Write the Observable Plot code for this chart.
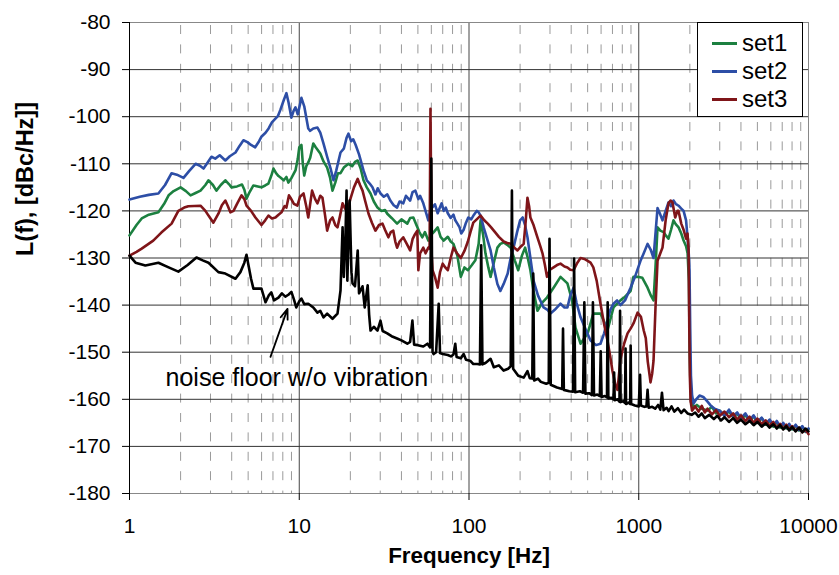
<!DOCTYPE html>
<html><head><meta charset="utf-8">
<script src="https://cdn.jsdelivr.net/npm/d3@7"></script>
<script src="https://cdn.jsdelivr.net/npm/@observablehq/plot@0.6"></script>
<style>
body{margin:0;background:#fff;font-family:"Liberation Sans",Arial,sans-serif;}
#wrap{position:relative;width:839px;height:575px;}
#legend{position:absolute;left:697px;top:22px;width:106px;height:95px;border:1px solid #000;background:#fff;box-sizing:border-box;}
.item{position:absolute;left:0;height:28px;display:flex;align-items:center;font-size:24px;line-height:28px;color:#000;}
.sw{display:inline-block;width:25px;height:3px;margin-left:14px;margin-right:5px;}
</style></head><body><div id="wrap"><div id="legend"></div></div>
<script>
// ---- data: [frequency Hz, L(f) dBc/Hz] ----
const seriesNames = ["set1", "set2", "set3"];
const seriesColors = ["#1C8040", "#2D4EA6", "#7F1519"];

const hfTail1 = [[2102,-161.7],[2200,-161.2],[2350,-162],[2541,-162.4],[2700,-161.6],[2850,-163],[3000,-162.4],[3200,-163.4],[3400,-162.6],[3600,-163.8],[3800,-163],[4000,-164.2],[4250,-163.4],[4500,-164.6],[4750,-163.6],[5000,-165],[5300,-164],[5600,-165.4],[5900,-164.5],[6200,-165.8],[6500,-164.8],[6800,-166],[7100,-165.2],[7400,-166.2],[7700,-165.4],[8000,-166.4],[8400,-165.6],[8800,-166.6],[9200,-165.8],[9600,-166.9],[10000,-166.3]];

const set1 = [[1,-125.2],[1.1,-123],[1.18,-121.6],[1.3,-120.8],[1.48,-120.3],[1.6,-118.5],[1.7,-116.7],[1.82,-115.8],[2.0,-115],[2.15,-115.8],[2.29,-116.7],[2.45,-116.2],[2.62,-115.7],[2.8,-114.5],[2.92,-113.5],[3.1,-114.5],[3.25,-115.7],[3.45,-114.5],[3.67,-113.5],[3.85,-114.3],[3.99,-115],[4.3,-114.8],[4.6,-114.4],[4.75,-115.5],[4.89,-117.4],[5.1,-116],[5.37,-114.6],[5.7,-114.8],[5.99,-115],[6.3,-114.6],[6.58,-114.2],[6.85,-112.5],[7.05,-111],[7.3,-112],[7.55,-112.6],[7.75,-112.9],[8.1,-113.5],[8.4,-112.8],[8.63,-114],[9.0,-113],[9.5,-111.4],[9.8,-109],[10.0,-106.5],[10.3,-106],[10.5,-110],[10.7,-112.5],[11.0,-110.5],[11.3,-109.7],[11.6,-108.7],[12.1,-105.7],[12.5,-106.5],[13.3,-107.8],[13.9,-109.5],[14.6,-110.8],[15.2,-113],[15.7,-115.7],[16.3,-114],[16.9,-112],[17.5,-112],[18.3,-110.8],[19.5,-110],[20.5,-110.5],[21.3,-109.6],[22.1,-109.3],[23,-111],[23.9,-113.5],[25,-115],[26.3,-116.3],[27.5,-118],[28.9,-119.3],[30.5,-120],[32,-119.8],[33,-120.6],[35,-121.5],[37.7,-122.7],[40,-121.8],[43.3,-122.7],[45,-121.5],[47,-121.4],[49,-123],[51,-124.5],[53.1,-125.6],[55,-124.5],[57.6,-126.3],[60,-125],[62,-124.5],[65.4,-123.5],[68,-125.5],[71,-126.3],[75,-125.5],[78,-126.5],[81,-127],[85.4,-129.5],[89.5,-134],[94,-132],[98.5,-132.6],[104,-131.5],[109,-130.5],[114,-127],[117,-122],[121,-125],[125,-129],[130,-132],[134,-134],[140,-131],[147,-127.8],[153,-127],[160,-126.7],[168,-127.2],[176,-127.8],[186,-130.5],[195,-132.6],[205,-129.5],[214,-127.8],[222,-130],[230,-132.6],[240,-137],[253,-141.2],[270,-139.5],[288,-138.4],[315,-136.3],[346,-134],[380,-135.4],[405,-139],[424,-144.8],[454,-148.2],[500,-146],[540,-141.8],[595,-141.8],[625,-143.5],[654,-145.4],[710,-140.5],[780,-139],[820,-138.4],[895,-137],[931,-134],[984,-134],[1050,-134.2],[1127,-136.3],[1180,-138],[1222,-139],[1255,-132],[1290,-123.5],[1340,-124.2],[1400,-124.5],[1450,-125.3],[1497,-125.9],[1550,-124],[1602,-122],[1650,-122.8],[1716,-123.5],[1780,-124.8],[1837,-126.3],[1900,-127.5],[1940,-129],[1975,-135],[1995,-150],[2020,-158],[2060,-160.3]].concat(hfTail1);

const hfTail2 = [[2102,-160.9],[2180,-160],[2280,-159.2],[2400,-159.5],[2541,-160.5],[2650,-161.3],[2800,-162],[3000,-162.4],[3200,-163.5],[3400,-162.2],[3600,-163.6],[3800,-162.8],[4000,-164],[4250,-163],[4500,-164.5],[4750,-163.4],[5000,-164.8],[5300,-163.9],[5600,-165.2],[5900,-164.3],[6200,-165.5],[6500,-164.6],[6800,-165.8],[7100,-165],[7400,-166],[7700,-165.2],[8000,-166.3],[8400,-165.4],[8800,-166.5],[9200,-165.7],[9600,-166.8],[10000,-166.2]];

const set2 = [[1,-117.6],[1.15,-117],[1.3,-116.6],[1.48,-116.3],[1.62,-114.5],[1.77,-112],[1.9,-112.3],[2.08,-113],[2.25,-111.5],[2.45,-110],[2.6,-110.4],[2.73,-111],[2.9,-109.6],[3.04,-108.5],[3.2,-108.9],[3.4,-108.2],[3.67,-109.3],[3.9,-108.4],[4.21,-107.6],[4.45,-106.2],[4.69,-105],[4.95,-105.4],[5.2,-106],[5.5,-106.5],[5.8,-105.2],[6.0,-104.2],[6.33,-103.4],[6.6,-102.5],[6.9,-101.2],[7.24,-100.4],[7.5,-99.8],[7.75,-98.5],[8.1,-96.5],[8.4,-95],[8.65,-97],[8.99,-100.2],[9.25,-98.8],[9.5,-98],[9.8,-99.5],[10.3,-96],[10.7,-97.8],[11.3,-102.5],[11.6,-103],[12.1,-102.5],[12.8,-102.3],[13.3,-103.4],[13.9,-105.7],[14.6,-108.5],[15.3,-111],[15.9,-113.5],[16.5,-111.5],[17.5,-107.6],[18.3,-106.8],[19.0,-104.5],[19.5,-103.6],[20.2,-105.2],[20.8,-104.8],[21.5,-106],[22.5,-108],[23.9,-111.4],[25,-113.5],[26,-114.2],[27,-115],[28.1,-116.5],[29,-115.2],[30.1,-116.3],[31.5,-117],[33,-116.5],[34.4,-117.8],[36,-118.8],[37.7,-119.3],[39,-118],[41,-118.4],[42.5,-116.8],[45,-117.8],[46.5,-116],[48.3,-115.7],[50.3,-117.5],[51.5,-116.8],[53.8,-118.4],[56,-120.5],[57.6,-122],[59,-120],[61,-119.2],[63,-118.6],[65.4,-120.5],[67,-119.5],[69,-118.4],[71,-120],[73,-119.3],[75,-120.5],[78,-121.5],[81,-120.8],[83,-122],[85.4,-122.7],[88,-123.5],[90,-124.8],[93,-124],[96,-122.5],[99,-121.4],[103,-121.8],[107,-120.8],[111,-120],[114,-120.3],[117,-121],[122,-123.5],[128,-126],[134,-128.4],[140,-132],[147,-135.5],[153,-137],[160,-135.5],[169,-133.3],[176,-130],[183,-127.8],[192,-124.5],[200,-122],[207,-121.4],[214,-123],[221,-125.6],[230,-130],[240,-134.8],[255,-138],[275,-140.5],[290,-141],[302,-141.8],[320,-141],[346,-139.7],[365,-140.5],[380,-140.5],[395,-138],[413,-136.3],[430,-139.5],[454,-142.6],[485,-145],[520,-147.5],[560,-148.5],[595,-148.2],[625,-146],[654,-143.3],[680,-141],[710,-139.7],[745,-139],[780,-140],[830,-139],[895,-136.3],[950,-134],[1024,-130.6],[1070,-129],[1127,-127],[1175,-128.2],[1222,-130],[1260,-124],[1290,-119.4],[1330,-120.5],[1380,-122],[1440,-120],[1497,-118.2],[1550,-119],[1602,-117.8],[1650,-118.5],[1716,-118.9],[1780,-119.5],[1837,-120],[1900,-122],[1938,-125.6],[1970,-129],[1991,-132.6],[2010,-145],[2030,-155],[2060,-159]].concat(hfTail2);

const hfTail3 = [[2060,-162.4],[2150,-161.5],[2250,-162.6],[2350,-161.4],[2450,-162.8],[2541,-162],[2700,-163.2],[2850,-162.3],[3000,-163.5],[3200,-162.6],[3400,-163.8],[3600,-163],[3800,-164.3],[4000,-163.4],[4250,-164.6],[4500,-163.7],[4750,-165],[5000,-164.1],[5300,-165.3],[5600,-164.5],[5900,-165.6],[6200,-164.8],[6500,-166],[6800,-165.2],[7100,-166.3],[7400,-165.4],[7700,-166.5],[8000,-165.7],[8400,-166.7],[8800,-166],[9200,-167],[9600,-166.4],[10000,-167.4]];

const set3 = [[1,-129.5],[1.1,-128.7],[1.18,-128],[1.38,-126.3],[1.54,-124.6],[1.77,-122.7],[1.94,-120],[2.1,-119.3],[2.22,-119],[2.62,-118.9],[2.8,-120],[2.92,-121],[3.12,-122.5],[3.34,-120.6],[3.5,-118.8],[3.67,-117.8],[3.8,-119],[3.93,-120.3],[4.1,-120],[4.3,-118.5],[4.57,-116.7],[4.75,-117.5],[4.89,-118.9],[5.2,-120],[5.52,-121.4],[5.99,-123],[6.3,-122],[6.58,-121],[6.9,-121.6],[7.24,-121.4],[7.55,-120.8],[7.86,-120.3],[8.2,-119],[8.4,-119.3],[8.7,-116.7],[8.88,-117.2],[9.3,-118.5],[9.75,-118.9],[10.1,-117],[10.6,-116.3],[11,-119],[11.3,-121.4],[11.9,-115.7],[12.4,-117.5],[12.8,-118.4],[13.3,-116.8],[13.7,-117.2],[14.2,-121],[14.6,-124.2],[15.2,-122],[15.7,-121.4],[16.3,-123],[16.8,-123.5],[17.4,-121],[18,-118.4],[18.6,-119.5],[19.2,-120],[20,-117.5],[21,-115],[22.1,-113.2],[22.8,-114.5],[23.6,-115.7],[24.5,-118],[25.6,-120.6],[26.8,-122.5],[28.1,-124.2],[29.5,-123],[30.9,-122.7],[32,-124],[33.5,-125.6],[34.6,-124.5],[35.8,-124.2],[36.8,-126.5],[37.7,-127.8],[39,-126.5],[41,-125.6],[43,-127],[45,-128.4],[46.5,-126],[48,-125],[49.6,-124.2],[50.3,-132.6],[51.5,-129],[53.8,-127.8],[55.5,-129],[57.6,-127.8],[58.6,-128],[59.3,-98.3],[60.2,-129],[61,-132.6],[63,-134],[65.4,-136.3],[67.5,-133],[70,-131.2],[72.5,-132],[75,-132.6],[78,-130],[81,-127.8],[85,-129],[89.5,-130],[94,-128.5],[98.5,-126.5],[102,-124.5],[106,-122.5],[111,-121.8],[117,-121],[123,-122],[129,-122.7],[135,-123.5],[140,-124.2],[150,-125.5],[160,-126.5],[168,-126.8],[176,-127],[185,-127.8],[193,-128.4],[203,-127.5],[210,-127],[216,-122],[221,-117.2],[226,-119],[230,-121.4],[240,-123],[253,-125.6],[263,-127.5],[271,-129],[280,-131.5],[288,-134],[300,-132.5],[315,-132],[330,-131.5],[346,-131.2],[365,-131.8],[380,-132],[395,-132.5],[413,-132.6],[435,-131],[454,-130],[478,-130.2],[500,-130.6],[520,-131],[540,-132],[565,-134.8],[595,-139.7],[625,-144],[654,-147.5],[680,-151],[700,-154],[730,-157],[750,-158],[780,-151.5],[820,-148.2],[859,-146],[895,-145],[931,-143.9],[984,-141.6],[1030,-142.5],[1070,-145.4],[1100,-147],[1130,-152],[1160,-155],[1173,-156.4],[1200,-154.5],[1222,-151.8],[1255,-140.5],[1290,-130.6],[1340,-129],[1380,-127.8],[1440,-122],[1497,-118.4],[1540,-117.8],[1580,-118.2],[1640,-121.4],[1690,-120],[1716,-120],[1780,-122.7],[1837,-124],[1900,-125.9],[1938,-124.8],[1965,-128],[1985,-145],[2000,-155],[2020,-160.3]].concat(hfTail3);

const floorLow = [[1,-129.5],[1.085,-131],[1.24,-131.6],[1.48,-131],[1.7,-132],[1.94,-132.9],[2.2,-131.5],[2.48,-129.9],[2.7,-130.5],[2.92,-131],[3.34,-133],[3.67,-133.3],[4.21,-134.4],[4.5,-133],[4.75,-131],[4.89,-129.3],[5.02,-131.5],[5.2,-134.4],[5.37,-136.5],[5.99,-136.5],[6.33,-139.4],[6.6,-138],[6.85,-137.3],[7.1,-139],[7.54,-138.4],[7.9,-137.5],[8.28,-138.2],[8.63,-137.8],[8.99,-137.2],[9.3,-138.8],[9.6,-140.5],[10.0,-139.2],[10.3,-138.6],[10.7,-139.8],[11.3,-139.7],[12.1,-140.5],[12.8,-141.6],[13.3,-141.2],[13.9,-142.6],[14.6,-141.8],[15.7,-142.9],[16.8,-141.8],[17.2,-139],[17.5,-136.9],[18.0,-123.5],[18.3,-134],[18.7,-126],[19.0,-115.7],[19.2,-134.8],[19.8,-117.8],[20.3,-133],[20.6,-135.4],[21.3,-136],[22.1,-128.4],[22.5,-137.5],[23.6,-136],[24.3,-140.5],[25.3,-135.8],[25.8,-142],[26.3,-145.4],[27.5,-144.6],[28.9,-145.4],[30.1,-143.3],[31,-145.5],[33,-146],[35,-146.6],[37.7,-147.1],[40,-147.5],[43.3,-148.2],[45,-147.8],[46.4,-143.3],[47.5,-148.4],[50,-148.5],[53.8,-148.8],[56.9,-148.2],[59,-149],[60,-108.9],[61,-150],[61.9,-150.4],[64,-150],[66.3,-139.7],[67.5,-150.2],[70,-150.4],[75,-150.6],[78.2,-150.9],[81,-150.5],[83,-148.2],[84.5,-151],[89.5,-151.3],[93,-150.4],[96,-151.6],[101.5,-151.8],[106,-152.5],[112,-152.5],[116,-152.6],[118,-127.3],[120,-152.6],[125,-152.3],[134,-151.4],[140,-153.2],[150,-152.8],[160,-153.9],[170,-153.5],[176,-153],[179,-115.7],[182,-153.5],[195,-155],[210,-155.4],[221,-154],[228,-155.5],[236,-155.6],[239,-133.3],[242,-156],[255,-155.6],[265,-156.3],[285,-156.7],[295,-156.5],[298,-125.9],[303,-156.9],[330,-157.5],[354,-157.8],[358,-145],[362,-158]];
const floorHigh = [[390,-158.3],[410,-158.4],[416,-130.1],[422,-158.5],[450,-158.3],[470,-158.6],[478,-139.4],[485,-158.8],[510,-158.7],[530,-159.1],[537,-139.4],[545,-159.2],[570,-159],[590,-159.3],[597,-149.8],[604,-159.5],[630,-159.3],[650,-159.6],[656,-139.4],[662,-159.8],[690,-159.7],[710,-160],[716,-154.3],[722,-160.2],[750,-160],[770,-160.5],[776,-141.2],[782,-160.6],[810,-160.4],[830,-160.8],[836,-149.2],[842,-161],[870,-160.7],[890,-161],[896,-148.6],[902,-161],[950,-161.3],[1000,-161.5],[1018,-154.8],[1030,-161.3],[1080,-161.6],[1110,-161.5],[1127,-158],[1145,-161.8],[1200,-161.6],[1250,-162],[1300,-161.2],[1340,-162.2],[1370,-158.6],[1400,-162.3],[1460,-161.8],[1500,-162.5],[1560,-161.5],[1620,-162.6],[1700,-161.9],[1780,-162.9],[1850,-162.2],[1938,-163],[2050,-163.3],[2150,-162.8],[2250,-163.7],[2350,-163],[2450,-164],[2600,-163.3],[2770,-164.2],[2900,-163.5],[3050,-164.5],[3200,-163.8],[3400,-164.8],[3600,-164],[3800,-165],[4000,-164.3],[4250,-165.3],[4500,-164.6],[4750,-165.5],[5000,-164.8],[5300,-165.8],[5600,-165.1],[5900,-166],[6200,-165.3],[6500,-166.2],[6800,-165.5],[7100,-166.4],[7400,-165.7],[7700,-166.6],[8000,-165.9],[8400,-166.8],[8800,-166],[9200,-167],[9600,-166.2],[10000,-166.8]];
const noiseFloor = floorLow.concat(floorHigh);

const xTicks = [1, 10, 100, 1000, 10000];
const yTicks = [-180, -170, -160, -150, -140, -130, -120, -110, -100, -90, -80];
const gridY = [-170, -160, -150, -140, -130, -120, -110, -100, -90];
const decadeGrid = [10, 100, 1000];
const minorMult = [2, 3, 4, 5, 6, 7, 8, 9];
const minorGrid = [1, 10, 100, 1000].flatMap(d => minorMult.map(m => m * d));

const xTitle = "Frequency [Hz]";
const yTitle = "L(f), [dBc/Hz]]";
const noteText = ["noise floor w/o vibration"];
const noteX = [1.63], noteY = [-155.4];
const arrowFrom = [6.77, -151.0], arrowTo = [8.53, -140.8];

const fmt = d => String(d);
const trace = (data, stroke) => Plot.line(data, {x: d => d[0], y: d => d[1], stroke, strokeWidth: 2.6, strokeLinejoin: "round", strokeLinecap: "round"});

const chart = Plot.plot({
  width: 839, height: 575,
  marginLeft: 129, marginRight: 31, marginTop: 22, marginBottom: 82,
  x: {type: "log", domain: [1, 10000]},
  y: {domain: [-180, -80]},
  style: {background: "white", color: "black", fontFamily: "'Liberation Sans', Arial, sans-serif", fontSize: "21px", overflow: "visible"},
  marks: [
    Plot.ruleX(minorGrid, {y1: d => -80, y2: d => -180, stroke: "#9a9a9a", strokeWidth: 1, strokeDasharray: "9,10.4", strokeDashoffset: 16.4}),
    Plot.ruleX(decadeGrid, {stroke: "#444", strokeWidth: 1}),
    Plot.ruleY(gridY, {stroke: "#333", strokeWidth: 1}),
    Plot.ruleY([-80, -180], {stroke: "#888", strokeWidth: 1}),
    Plot.ruleX([10000], {stroke: "#888", strokeWidth: 1}),
    Plot.ruleX([1], {stroke: "#000", strokeWidth: 1}),
    trace(set1, seriesColors[0]),
    trace(set2, seriesColors[1]),
    trace(set3, seriesColors[2]),
    trace(noiseFloor, "#000"),
    Plot.arrow([0], {x1: () => arrowFrom[0], y1: () => arrowFrom[1], x2: () => arrowTo[0], y2: () => arrowTo[1], stroke: "#000", strokeWidth: 1.8, headLength: 9, headAngle: 40}),
    Plot.text(noteText, {x: (d, i) => noteX[i], y: (d, i) => noteY[i], text: d => d, textAnchor: "start", fontSize: 25}),
    Plot.axisX({ticks: xTicks, tickFormat: fmt, tickSize: 7, tickPadding: 18, label: null}),
    Plot.axisY({ticks: yTicks, tickFormat: fmt, tickSize: 7, tickPadding: 12, label: null}),
    Plot.text([xTitle], {frameAnchor: "bottom", dy: 69, fontWeight: "bold", fontSize: 22.4}),
    Plot.text([yTitle], {frameAnchor: "left", dx: -104.5, dy: -2, rotate: -90, fontWeight: "bold", fontSize: 23.5})
  ]
});
document.getElementById("wrap").prepend(chart);

const legend = document.getElementById("legend");
seriesNames.forEach((name, i) => {
  const row = document.createElement("div");
  row.className = "item";
  row.style.top = (6 + i * 28) + "px";
  row.innerHTML = `<span class="sw" style="background:${seriesColors[i]}"></span><span>${name}</span>`;
  legend.appendChild(row);
});
</script>
</body></html>
